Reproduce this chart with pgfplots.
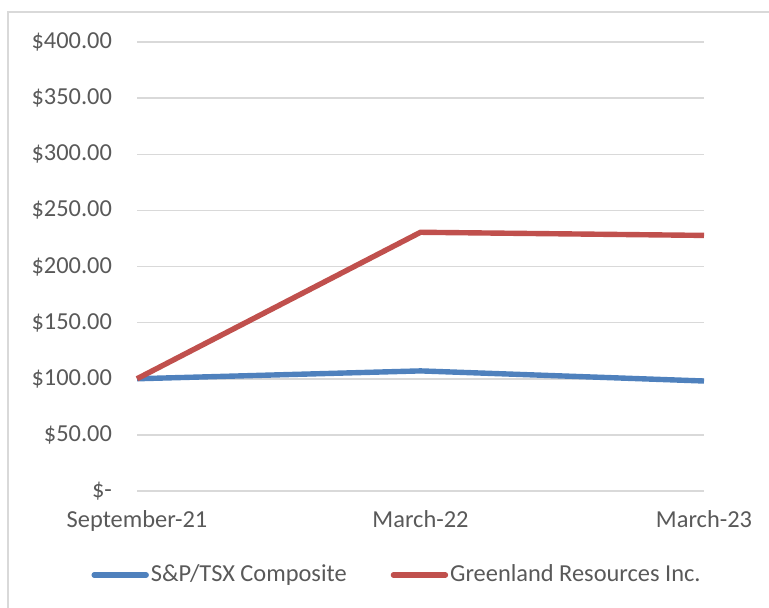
\documentclass[border=0pt]{standalone}
\usepackage{pgfplots}
\pgfplotsset{compat=1.18}
\usepackage{fontspec}
\setmainfont{Carlito}
\definecolor{txt}{HTML}{595959}
\definecolor{gridc}{HTML}{D9D9D9}
\definecolor{sblue}{HTML}{4F81BD}
\definecolor{sred}{HTML}{C0504D}
\begin{document}
\begin{tikzpicture}[x=1pt,y=1pt]
\useasboundingbox (-68.5,-58) rectangle (316,245.5);
\draw[gridc, line width=0.9pt] (-64.5,-62) -- (-64.5,239.5) -- (320,239.5);
\begin{axis}[
  at={(0pt,0pt)}, anchor=south west,
  width=283.5pt, height=224.5pt, scale only axis,
  xmin=0, xmax=2, ymin=0, ymax=400,
  xtick={0,1,2}, xticklabels={September-21,March-22,March-23},
  ytick={0,50,100,150,200,250,300,350,400},
  yticklabels={\$-\hspace{9.5pt},\$50.00,\$100.00,\$150.00,\$200.00,\$250.00,\$300.00,\$350.00,\$400.00},
  ymajorgrids, major grid style={gridc, line width=0.75pt},
  axis line style={draw=none}, tick style={draw=none},
  tick label style={font=\fontsize{12.2}{14}\selectfont, text=txt},
  yticklabel style={xshift=-9pt},
  xticklabel style={yshift=-6pt},
  clip=false,
  legend style={at={(0.4586,-0.187)}, anchor=center, draw=none, fill=none,
    font=\fontsize{12.2}{14}\selectfont, text=txt,
    nodes={inner xsep=1pt},
    /tikz/every even column/.append style={column sep=21pt}},
  legend columns=2,
  legend image code/.code={\draw[#1, line cap=round] (0pt,0pt) -- (26pt,0pt);},
]
\addplot[sblue, line width=2.7pt] coordinates {(0,100) (1,107) (2,98)};
\addlegendentry{S\&P/TSX Composite}
\addplot[sred, line width=2.7pt] coordinates {(0,100) (1,230.5) (2,227.7)};
\addlegendentry{Greenland Resources Inc.}
\end{axis}
\end{tikzpicture}
\end{document}
